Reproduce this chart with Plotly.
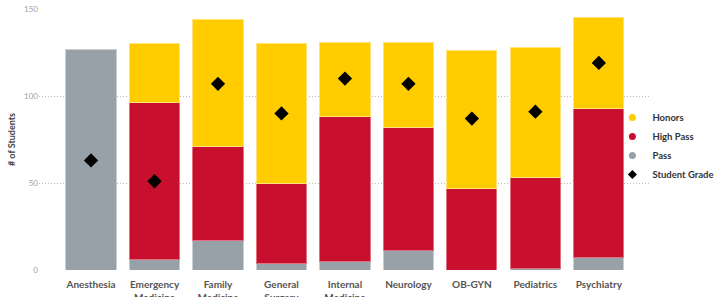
import plotly.graph_objects as go

categories = ["Anesthesia", "Emergency<br>Medicine", "Family<br>Medicine", "General<br>Surgery",
              "Internal<br>Medicine", "Neurology", "OB-GYN", "Pediatrics", "Psychiatry"]
pass_vals = [127, 6, 17, 4, 5, 11, 0, 1, 7]
high_pass_vals = [0, 90, 54, 46, 83, 71, 47, 52, 86]
honors_vals = [0, 34, 73, 80, 43, 49, 79, 75, 52]
student_grade = [63, 51, 107, 90, 110, 107, 87, 91, 119]
y_ticks = [0, 50, 100, 150]

c_hon = "#FFCC00"
c_hp = "#C8102E"
c_pass = "#98A1A8"

xs = list(range(len(categories)))
fig = go.Figure()
for name, vals, col, edge in [("Pass", pass_vals, c_pass, "#C9CED2"),
                              ("High Pass", high_pass_vals, c_hp, "#E0707F"),
                              ("Honors", honors_vals, c_hon, "#FFE27A")]:
    yv = [v if v else None for v in vals]
    fig.add_trace(go.Bar(x=xs, y=yv, name=name, marker=dict(color=col, line=dict(color=edge, width=1)),
                         showlegend=False))
fig.add_trace(go.Scatter(x=xs, y=student_grade, mode="markers", name="Student Grade",
                         marker=dict(symbol="diamond", size=11, color="black"), showlegend=False))

# legend entries
for name, col, sym in [("Honors", c_hon, "circle"), ("High Pass", c_hp, "circle"),
                       ("Pass", c_pass, "circle"), ("Student Grade", "black", "diamond")]:
    fig.add_trace(go.Scatter(x=[None], y=[None], mode="markers", name=name,
                             marker=dict(symbol=sym, size=7, color=col)))

fig.update_layout(
    width=722, height=297,
    margin=dict(l=39, r=73, t=9, b=27, autoexpand=False),
    barmode="stack", bargap=0.21,
    plot_bgcolor="white", paper_bgcolor="white",
    font=dict(family="Lato", color="#555"),
    legend=dict(x=0.94, xanchor="left", y=0.64, yanchor="top", traceorder="normal",
                font=dict(size=9.5, color="#333", family="Lato", weight=700),
                itemwidth=30, tracegroupgap=0, bgcolor="rgba(0,0,0,0)"),
    xaxis=dict(tickmode="array", tickvals=xs, ticktext=categories, range=[-0.82, 8.79],
               showgrid=False, zeroline=False, showline=False, automargin=False,
               ticklabelstandoff=7,
               tickfont=dict(size=10, color="#555555", family="Lato", weight=700), ticks=""),
    yaxis=dict(range=[0, 150], tickvals=y_ticks, showgrid=True, gridcolor="#BBBBBB",
               griddash="1px,2px", gridwidth=1, zeroline=False, automargin=False,
               tickfont=dict(size=8, color="#A0A0A0"),
               title=dict(text="# of Students", font=dict(size=9, color="#444", weight=700), standoff=6)),
)
fig.write_html("out.html", config={"displayModeBar": False},
               post_script="document.body.style.margin='0';document.body.style.overflow='hidden';")
